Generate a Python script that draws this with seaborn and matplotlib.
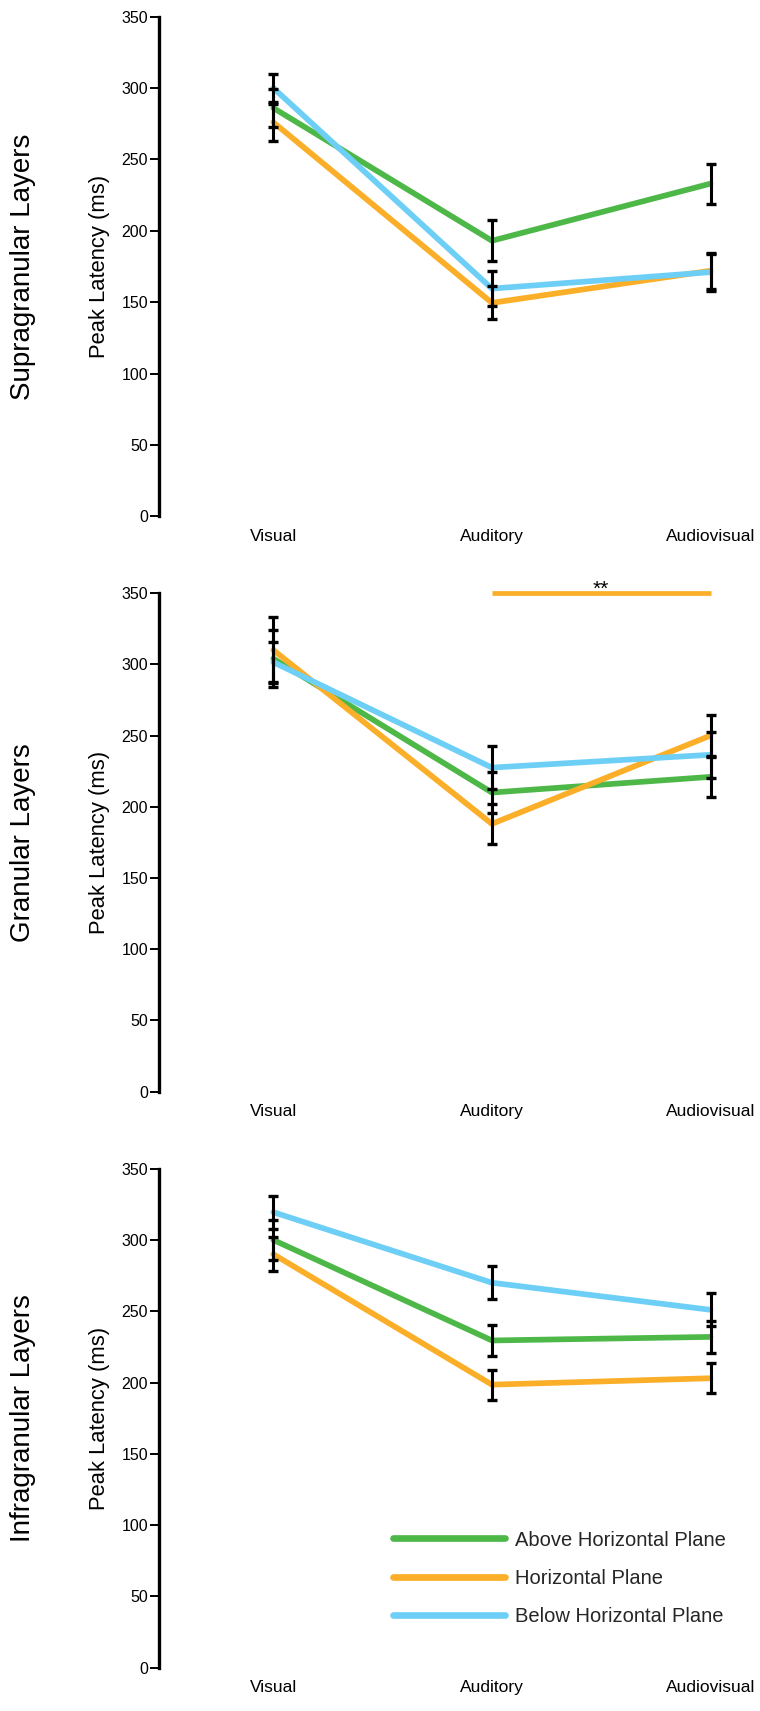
import matplotlib
matplotlib.use("Agg")
import matplotlib.pyplot as plt
import seaborn as sns
import pandas as pd
from matplotlib.lines import Line2D

sns.set_theme(style="ticks")
plt.rcParams["font.family"] = ["Liberation Sans", "DejaVu Sans"]

conditions = ["Visual", "Auditory", "Audiovisual"]
planes = ["Above Horizontal Plane", "Horizontal Plane", "Below Horizontal Plane"]
layers = ["Supragranular Layers", "Granular Layers", "Infragranular Layers"]
plane_colors = ["#4DB848", "#FBAE28", "#6DCFF6"]

# Peak latency (ms), one row per plane, columns follow `conditions`
supra_mean = [[286, 193, 233], [276, 149.5, 172], [300, 159.5, 171]]
supra_sem = [[13, 14.5, 14], [13, 11.5, 12.5], [10, 12, 13]]
gran_mean = [[304, 210, 221], [310, 188, 250], [301.5, 227.5, 236.5]]
gran_sem = [[20, 14.5, 14], [23, 14, 14.5], [14, 15, 16]]
infra_mean = [[300, 229.5, 232], [290, 198.5, 203], [319.5, 270, 251]]
infra_sem = [[14, 11, 11], [12, 10.5, 10.7], [11.5, 11.5, 11.5]]

y_ticks = [0, 50, 100, 150, 200, 250, 300, 350]

layer_means = [supra_mean, gran_mean, infra_mean]
layer_sems = [supra_sem, gran_sem, infra_sem]

W, H = 760, 1711
fig = plt.figure(figsize=(W / 100, H / 100), dpi=100)

# axes boxes in pixels: (top of y=350, bottom of y=0)
panel_px = [(16.6, 516.3), (593.1, 1091.7), (1168.7, 1667.6)]
left_px, width_px = 159, 599.6

for i, (top, bot) in enumerate(panel_px):
    ax = fig.add_axes([left_px / W, 1 - bot / H, width_px / W, (bot - top) / H])
    rows = []
    for p, plane in enumerate(planes):
        for c, cond in enumerate(conditions):
            rows.append({"condition": cond, "plane": plane,
                         "latency": layer_means[i][p][c],
                         "sem": layer_sems[i][p][c]})
    df = pd.DataFrame(rows)
    sns.lineplot(data=df, x="condition", y="latency", hue="plane",
                 hue_order=planes, palette=plane_colors, sort=False,
                 linewidth=4.1, legend=False, ax=ax)
    for p, plane in enumerate(planes):
        sub = df[df["plane"] == plane]
        ax.errorbar(range(len(conditions)), sub["latency"], yerr=sub["sem"],
                    fmt="none", ecolor="black", elinewidth=2.2,
                    capsize=3.6, capthick=2.4, zorder=5)

    ax.set_xlim(-0.523, 2.22)
    ax.set_ylim(0, 350)
    ax.set_yticks(y_ticks)
    ax.set_xticks(range(len(conditions)))
    ax.set_xticklabels(conditions, fontsize=12.5)
    ax.tick_params(axis="x", length=0, pad=9, colors="black")
    ax.tick_params(axis="y", length=6.5, width=1.4, pad=1.5,
                   labelsize=11.5, colors="black")
    sns.despine(ax=ax, bottom=True)
    ax.spines["left"].set_linewidth(2.4)
    ax.spines["left"].set_color("black")
    ax.set_xlabel("")
    ax.set_ylabel("Peak Latency (ms)", fontsize=15.8, color="black")
    ax.yaxis.set_label_coords(-0.082, 0.5)

    fig.text(23 / W, 1 - (top + bot) / 2 / H, layers[i], rotation=90,
             ha="center", va="center", fontsize=20, color="black")

    if i == 1:
        # Auditory vs Audiovisual difference for the horizontal plane
        ax.plot([1, 2], [350, 350], color=plane_colors[1], linewidth=3.4,
                solid_capstyle="butt", clip_on=False)
        ax.text(1.5, 349, "**", ha="center", va="baseline", fontsize=15,
                color="black")

    if i == 2:
        handles = [Line2D([0], [0], color=col, linewidth=4.8)
                   for col in plane_colors]
        fig.legend(handles, planes, loc="upper left",
                   bbox_to_anchor=(393.3 / W, 1 - 1530.5 / H),
                   frameon=False, fontsize=14.5, handlelength=5.55,
                   handletextpad=0.5, labelspacing=0.96, borderpad=0,
                   borderaxespad=0)

fig.savefig("out.png", dpi=100)
